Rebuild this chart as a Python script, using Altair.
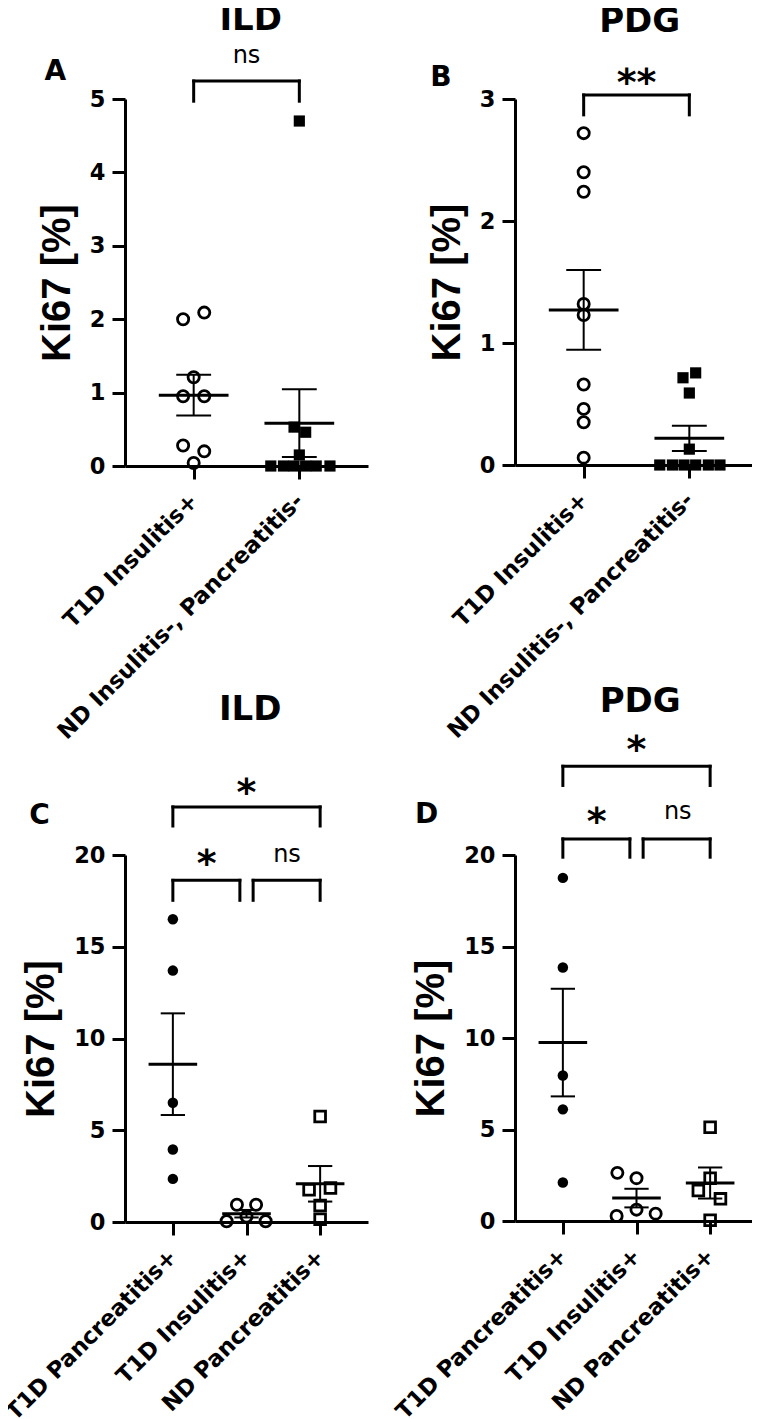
import json
import altair as alt
import pandas as pd

FONT_H = "DejaVu Sans"
FONT_Y = "Liberation Sans"

# ---------------- data ----------------
# Panel A : ILD
A_groups = ["T1D Insulitis+", "ND Insulitis-, Pancreatitis-"]
A_t1d_ins = [2.00, 2.09, 1.21, 0.95, 0.95, 0.28, 0.20, 0.04]
A_nd_neg = [4.70, 0.53, 0.46, 0.15, 0, 0, 0, 0, 0, 0]
# Panel B : PDG
B_groups = ["T1D Insulitis+", "ND Insulitis-, Pancreatitis-"]
B_t1d_ins = [2.72, 2.40, 2.24, 1.32, 1.23, 0.66, 0.46, 0.35, 0.06]
B_nd_neg = [0.755, 0.715, 0.59, 0.13, 0, 0, 0, 0, 0, 0]
# Panel C : ILD
C_groups = ["T1D Pancreatitis+", "T1D Insulitis+", "ND Pancreatitis+"]
C_t1d_panc = [16.5, 13.7, 6.5, 3.95, 2.35]
C_t1d_ins = [0.94, 0.94, 0.30, 0.04, 0.04]
C_nd_panc = [5.75, 1.85, 1.76, 0.90, 0.15]
# Panel D : PDG
D_groups = ["T1D Pancreatitis+", "T1D Insulitis+", "ND Pancreatitis+"]
D_t1d_panc = [18.75, 13.85, 7.95, 6.10, 2.10]
D_t1d_ins = [2.63, 2.34, 0.62, 0.40, 0.27]
D_nd_panc = [5.12, 2.34, 1.67, 1.21, 0.04]

# horizontal scatter of the points (fraction of one category step)
A_t1d_ins_dx = [-0.1, 0.1, 0, -0.1, 0.1, -0.1, 0.1, 0]
A_nd_neg_dx = [0, -0.05, 0.06, 0, -0.27, -0.15, -0.05, 0.06, 0.16, 0.29]
B_t1d_ins_dx = [0, 0, 0, 0, 0, 0, 0, 0, 0]
B_nd_neg_dx = [0.06, -0.06, 0, 0, -0.28, -0.16, -0.05, 0.06, 0.18, 0.29]
C_t1d_panc_dx = [0, 0, 0, 0, 0]
C_t1d_ins_dx = [-0.13, 0.13, 0, -0.27, 0.26]
C_nd_panc_dx = [0, 0.14, -0.15, 0, 0]
D_t1d_panc_dx = [0, 0, 0, 0, 0]
D_t1d_ins_dx = [-0.26, 0, 0, 0.26, -0.27]
D_nd_panc_dx = [0, 0, -0.16, 0.14, 0]

# marker styles
OPEN_CIRCLE = dict(shape="circle", filled=False, size=125, strokeWidth=2.8)
FILLED_SQUARE = dict(shape="square", filled=True, size=125, strokeWidth=0)
FILLED_CIRCLE = dict(shape="circle", filled=True, size=110, strokeWidth=0)
OPEN_SQUARE = dict(shape="square", filled=False, size=115, strokeWidth=2.8)


def make_panel(groups, series, offsets, styles, ymax, yticks, height,
               title, title_pos, letter, letter_pos, brackets, stars, ns):
    n = len(groups)
    rows = []
    for gi, (vals, offs) in enumerate(zip(series, offsets)):
        for v, o in zip(vals, offs):
            rows.append({"g": gi, "x": gi + o, "v": v})
    pts = pd.DataFrame(rows)

    xscale = alt.Scale(domain=[-0.65, n - 1 + 0.65], nice=False, zero=False)
    yscale = alt.Scale(domain=[0, ymax], nice=False, zero=True)
    xaxis = alt.Axis(
        title=None, values=list(range(n)), labelExpr=json.dumps(groups) + "[datum.value]",
        labelAngle=-45, labelAlign="right", labelBaseline="middle", labelLimit=500,
        labelOverlap=False, labelBound=False,
        labelFont=FONT_H, labelFontWeight="bold", labelFontSize=22.7, labelColor="black",
        labelPadding=18, domainColor="black", domainWidth=3, tickColor="black",
        tickWidth=3, tickSize=13, grid=False,
    )
    yaxis = alt.Axis(
        title="Ki67 [%]", values=yticks, titleFont=FONT_Y, titleFontSize=40,
        titleFontWeight="bold", titleColor="black", titlePadding=12,
        labelFont=FONT_H, labelFontWeight="bold", labelFontSize=22.5, labelColor="black",
        labelPadding=7, labelOverlap=False,
        domainColor="black", domainWidth=3, tickColor="black",
        tickWidth=3, tickSize=13, grid=False,
    )

    def X(f):
        return alt.X(f, scale=xscale, axis=xaxis)

    def Y(f):
        return alt.Y(f, scale=yscale, axis=yaxis)

    layers = []
    base = alt.Chart(pts)
    for gi, st in enumerate(styles):
        layers.append(
            base.transform_filter(alt.datum.g == gi)
            .mark_point(color="black", opacity=1, **st)
            .encode(x=X("x:Q"), y=Y("v:Q"))
        )

    stats = base.transform_aggregate(
        m="mean(v)", s="stderr(v)", groupby=["g"]
    ).transform_calculate(
        lo="datum.m - datum.s", hi="datum.m + datum.s",
        ml="datum.g - 0.33", mr="datum.g + 0.33",
        cl="datum.g - 0.165", cr="datum.g + 0.165",
    )
    layers.append(stats.mark_rule(color="black", strokeWidth=2).encode(
        x=X("g:Q"), y=Y("lo:Q"), y2="hi:Q"))
    layers.append(stats.mark_rule(color="black", strokeWidth=2).encode(
        x=X("cl:Q"), x2="cr:Q", y=Y("lo:Q")))
    layers.append(stats.mark_rule(color="black", strokeWidth=2).encode(
        x=X("cl:Q"), x2="cr:Q", y=Y("hi:Q")))
    layers.append(stats.mark_rule(color="black", strokeWidth=3).encode(
        x=X("ml:Q"), x2="mr:Q", y=Y("m:Q")))

    # significance brackets
    segs = []
    for (l, r, top, leg) in brackets:
        segs.append({"x1": l, "x2": r, "y1": top, "y2": top})
        segs.append({"x1": l, "x2": l, "y1": top, "y2": leg})
        segs.append({"x1": r, "x2": r, "y1": top, "y2": leg})
    layers.append(alt.Chart(pd.DataFrame(segs)).mark_rule(
        color="black", strokeWidth=3, strokeCap="square").encode(
        x=X("x1:Q"), x2="x2:Q", y=Y("y1:Q"), y2="y2:Q"))

    # texts
    t_title = pd.DataFrame([{"t": title, "x": title_pos[0], "y": title_pos[1]}])
    layers.append(alt.Chart(t_title).mark_text(
        font=FONT_H, fontWeight="bold", fontSize=34, color="black", dy=2,
        align="center", baseline="middle").encode(x=X("x:Q"), y=Y("y:Q"), text="t:N"))
    t_letter = pd.DataFrame([{"t": letter, "x": letter_pos[0], "y": letter_pos[1]}])
    layers.append(alt.Chart(t_letter).mark_text(
        font=FONT_H, fontWeight="bold", fontSize=28, color="black", dy=1,
        align="center", baseline="middle").encode(x=X("x:Q"), y=Y("y:Q"), text="t:N"))
    if stars:
        t_star = pd.DataFrame([{"t": s, "x": x, "y": y} for (s, x, y) in stars])
        layers.append(alt.Chart(t_star).mark_text(
            font=FONT_H, fontWeight="bold", fontSize=38, color="black", dy=9,
            align="center", baseline="middle").encode(x=X("x:Q"), y=Y("y:Q"), text="t:N"))
    if ns:
        t_ns = pd.DataFrame([{"t": s, "x": x, "y": y} for (s, x, y) in ns])
        layers.append(alt.Chart(t_ns).mark_text(
            font=FONT_H, fontWeight="normal", fontSize=24, color="black",
            align="center", baseline="middle").encode(x=X("x:Q"), y=Y("y:Q"), text="t:N"))

    return alt.layer(*layers).properties(width=243, height=height)


panel_a = make_panel(
    A_groups, [A_t1d_ins, A_nd_neg], [A_t1d_ins_dx, A_nd_neg_dx],
    [OPEN_CIRCLE, FILLED_SQUARE], 5, [0, 1, 2, 3, 4, 5], 367,
    "ILD", (0.54, 6.11), "A", (-1.31, 5.38),
    [(0, 1, 5.245, 4.97)], [], [("ns", 0.5, 5.586)])

panel_b = make_panel(
    B_groups, [B_t1d_ins, B_nd_neg], [B_t1d_ins_dx, B_nd_neg_dx],
    [OPEN_CIRCLE, FILLED_SQUARE], 3, [0, 1, 2, 3], 366,
    "PDG", (0.53, 3.65), "B", (-1.35, 3.18),
    [(0, 1, 3.033, 2.87)], [("**", 0.5, 3.2)], [])

panel_c = make_panel(
    C_groups, [C_t1d_panc, C_t1d_ins, C_nd_panc], [C_t1d_panc_dx, C_t1d_ins_dx, C_nd_panc_dx],
    [FILLED_CIRCLE, OPEN_CIRCLE, OPEN_SQUARE], 20, [0, 5, 10, 15, 20], 367,
    "ILD", (1.05, 28.0), "C", (-1.81, 22.2),
    [(0, 2, 22.62, 21.58), (0, 0.91, 18.62, 17.53), (1.09, 2, 18.62, 17.53)],
    [("*", 1.0, 23.83), ("*", 0.46, 19.95)], [("ns", 1.55, 20.02)])

panel_d = make_panel(
    D_groups, [D_t1d_panc, D_t1d_ins, D_nd_panc], [D_t1d_panc_dx, D_t1d_ins_dx, D_nd_panc_dx],
    [FILLED_CIRCLE, OPEN_CIRCLE, OPEN_SQUARE], 20, [0, 5, 10, 15, 20], 366,
    "PDG", (1.05, 28.45), "D", (-1.85, 22.24),
    [(0, 2, 24.85, 23.8), (0, 0.91, 20.88, 19.88), (1.09, 2, 20.88, 19.88)],
    [("*", 1.0, 26.16), ("*", 0.46, 22.24)], [("ns", 1.56, 22.34)])

chart = alt.concat(
    panel_a, panel_b, panel_c, panel_d, columns=2,
    spacing=alt.RowColnumber(row=389, column=147), bounds="flush",
).properties(
    padding={"left": -6, "right": -6, "top": -6, "bottom": 0}, background="white"
).configure_view(strokeWidth=0)

chart.save("out.html", embed_options={"renderer": "svg", "actions": False})
